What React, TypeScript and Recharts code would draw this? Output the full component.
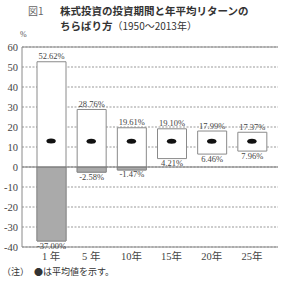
import { ComposedChart, Bar, Line, XAxis, YAxis, CartesianGrid, ReferenceLine, LabelList } from "recharts";

document.body.style.margin = "0";

const periods = ["1 年", "5 年", "10年", "15年", "20年", "25年"];
const maxReturns = [52.62, 28.76, 19.61, 19.1, 17.99, 17.37];
const minReturns = [-37.0, -2.58, -1.47, 4.21, 6.46, 7.96];
const meanReturns = [13.0, 12.9, 12.9, 12.9, 12.9, 12.9];
const yTicks = [60, 50, 40, 30, 20, 10, 0, -10, -20, -30, -40];

const data = periods.map((p, i) => ({
    period: p,
    range: [minReturns[i], maxReturns[i]],
    loss: minReturns[i] < 0 ? [minReturns[i], 0] : null,
    max: maxReturns[i],
    min: minReturns[i],
    mean: meanReturns[i],
}));

const SERIF = "'Liberation Serif', 'Noto Sans CJK JP', serif";
const JP = "'Noto Sans CJK JP', sans-serif";
const LINE = "#8a8a8a";

function MaxLabel(props: any) {
    const { x, y, width, value } = props;
    return (
        <text x={x + width / 2} y={y - 2.5} textAnchor="middle" fontSize={8.5} fontFamily={SERIF} fill="#444">
            {Number(value).toFixed(2)}%
        </text>
    );
}

function MinLabel(props: any) {
    const { x, y, width, height, value } = props;
    return (
        <text x={x + width / 2} y={y + height + 7.5} textAnchor="middle" fontSize={8.5} fontFamily={SERIF} fill="#444">
            {Number(value).toFixed(2)}%
        </text>
    );
}

function MeanDot(props: any) {
    const { cx, cy, index } = props;
    return <ellipse key={index} cx={cx} cy={cy} rx={4.7} ry={2.5} fill="#111" />;
}

export default function App() {
    return (
        <div style={{ position: "relative", width: 300, height: 287, background: "#fff", color: "#333" }}>
            <div style={{ position: "absolute", left: 28, top: 6, fontFamily: JP, fontSize: 10, lineHeight: 1, color: "#666" }}>
                図1
            </div>
            <div style={{ position: "absolute", left: 60, top: 6, fontFamily: JP, fontSize: 10.5, lineHeight: 1, fontWeight: 700, whiteSpace: "nowrap" }}>
                株式投資の投資期間と年平均リターンの
            </div>
            <div style={{ position: "absolute", left: 60, top: 21, fontFamily: JP, fontSize: 10.5, lineHeight: 1, fontWeight: 700, whiteSpace: "nowrap" }}>
                ちらばり方<span style={{ fontWeight: 400, fontSize: 10 }}>（1950～2013年）</span>
            </div>
            <div style={{ position: "absolute", left: 20, top: 31, fontFamily: SERIF, fontSize: 8, lineHeight: 1, color: "#555" }}>
                %
            </div>
            <ComposedChart
                width={300}
                height={287}
                data={data}
                margin={{ top: 47, right: 22, left: 0, bottom: 0 }}
                barGap={-29}
            >
                <CartesianGrid vertical={false} stroke="#999" strokeDasharray="2 1.5" />
                <XAxis
                    dataKey="period"
                    height={40}
                    padding={{ left: 9, right: 6 }}
                    tickLine={false}
                    tickSize={0}
                    tickMargin={6}
                    axisLine={{ stroke: LINE }}
                    tick={{ fontSize: 10.5, fontFamily: SERIF, fill: "#444" }}
                    interval={0}
                />
                <YAxis
                    domain={[-40, 60]}
                    ticks={yTicks}
                    width={22}
                    tickLine={false}
                    tickSize={0}
                    tickMargin={4}
                    axisLine={{ stroke: LINE }}
                    tick={{ fontSize: 10.5, fontFamily: SERIF, fill: "#444" }}
                    interval={0}
                />
                <YAxis yAxisId="right" orientation="right" domain={[-40, 60]} width={0} tick={false} tickLine={false} axisLine={{ stroke: LINE }} />
                <ReferenceLine y={60} stroke={LINE} />
                <ReferenceLine y={0} stroke="#777" />
                <Bar dataKey="range" barSize={29} fill="#fff" stroke={LINE} strokeWidth={1} isAnimationActive={false}>
                    <LabelList dataKey="max" content={<MaxLabel />} />
                    <LabelList dataKey="min" content={<MinLabel />} />
                </Bar>
                <Bar dataKey="loss" barSize={29} fill="#aaaaaa" stroke={LINE} strokeWidth={1} isAnimationActive={false} />
                <Line dataKey="mean" stroke="none" dot={<MeanDot />} activeDot={false} isAnimationActive={false} />
            </ComposedChart>
            <div style={{ position: "absolute", left: 2, top: 267, fontFamily: JP, fontSize: 9, lineHeight: 1, whiteSpace: "nowrap" }}>
                （注）
            </div>
            <div style={{ position: "absolute", left: 34, top: 267, fontFamily: JP, fontSize: 9, lineHeight: 1, whiteSpace: "nowrap" }}>
                ●は平均値を示す。
            </div>
        </div>
    );
}
